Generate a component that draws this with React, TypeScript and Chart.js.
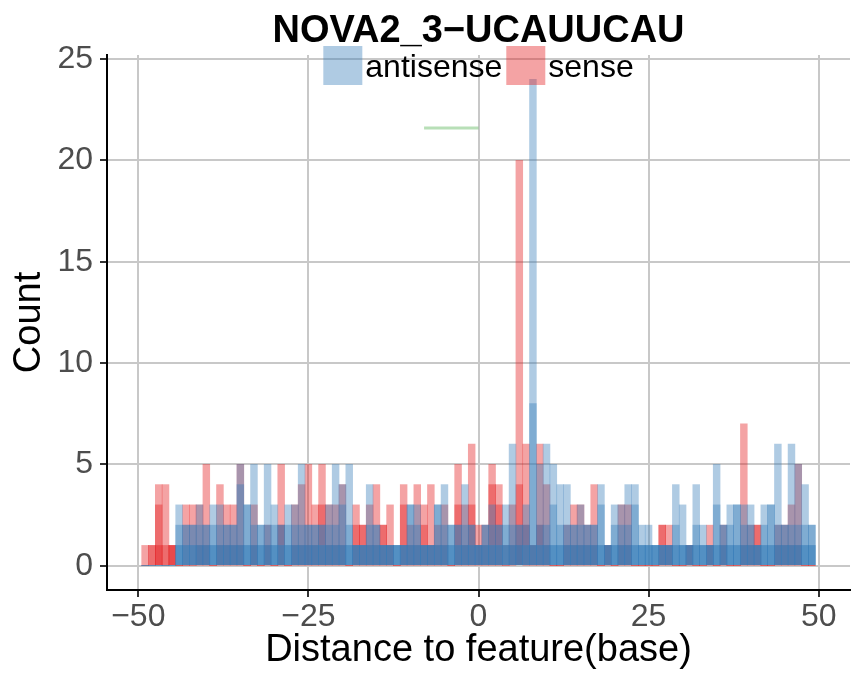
import React, { useEffect, useRef } from "react";
import { Chart, registerables } from "chart.js";

Chart.register(...registerables);

const FONT = '"Liberation Sans", Arial, Helvetica, sans-serif';

const titleText = "NOVA2_3\u2212UCAUUCAU";
const xAxisTitle = "Distance to feature(base)";
const yAxisTitle = "Count";
const legendLabels = ["antisense", "sense"];
const xTickValues = [-50, -25, 0, 25, 50];
const yTickValues = [0, 5, 10, 15, 20, 25];

const positions = [
  -49, -48, -47, -46, -45, -44, -43, -42, -41, -40,
  -39, -38, -37, -36, -35, -34, -33, -32, -31, -30,
  -29, -28, -27, -26, -25, -24, -23, -22, -21, -20,
  -19, -18, -17, -16, -15, -14, -13, -12, -11, -10,
  -9, -8, -7, -6, -5, -4, -3, -2, -1, 0,
  1, 2, 3, 4, 5, 6, 7, 8, 9, 10,
  11, 12, 13, 14, 15, 16, 17, 18, 19, 20,
  21, 22, 23, 24, 25, 26, 27, 28, 29, 30,
  31, 32, 33, 34, 35, 36, 37, 38, 39, 40,
  41, 42, 43, 44, 45, 46, 47, 48, 49,
];

const senseTotal = [
  1, 1, 4, 4, 1, 0, 3, 3, 3, 5,
  0, 4, 3, 3, 5, 0, 3, 0, 2, 0,
  5, 0, 3, 4, 5, 3, 5, 3, 3, 4,
  0, 3, 2, 3, 4, 2, 3, 0, 4, 2,
  4, 3, 4, 2, 3, 0, 5, 3, 6, 2,
  2, 5, 4, 1, 3, 20, 6, 1, 6, 4,
  0, 0, 2, 3, 3, 2, 4, 0, 1, 0,
  3, 3, 0, 0, 0, 0, 2, 2, 0, 0,
  1, 0, 0, 2, 0, 2, 0, 0, 7, 2,
  2, 0, 0, 2, 2, 3, 5, 0, 0,
];

const senseInner = [
  0, 1, 3, 1, 1, 0, 0, 0, 1, 1,
  0, 1, 1, 1, 1, 0, 1, 0, 1, 0,
  2, 0, 1, 1, 1, 1, 3, 1, 1, 1,
  0, 2, 2, 1, 1, 2, 1, 0, 3, 1,
  1, 2, 1, 1, 1, 0, 3, 1, 3, 1,
  1, 4, 3, 0, 1, 4, 2, 1, 2, 1,
  0, 0, 1, 1, 1, 1, 1, 0, 1, 0,
  1, 1, 0, 0, 0, 0, 2, 1, 0, 0,
  1, 0, 0, 1, 0, 1, 0, 0, 1, 1,
  2, 0, 0, 1, 1, 1, 1, 0, 0,
];

const senseBase = [
  0, 0, 1, 0, 1, 0, 0, 0, 0, 0,
  0, 0, 0, 0, 0, 0, 0, 0, 0, 0,
  0, 0, 0, 0, 0, 0, 0, 0, 0, 0,
  0, 0, 0, 0, 0, 0, 0, 0, 0, 0,
  0, 0, 0, 0, 0, 0, 0, 0, 0, 0,
  0, 0, 0, 0, 0, 1, 0, 0, 0, 0,
  0, 0, 0, 0, 0, 0, 0, 0, 0, 0,
  0, 0, 0, 0, 0, 0, 0, 0, 0, 0,
  0, 0, 0, 0, 0, 0, 0, 0, 0, 0,
  0, 0, 0, 0, 0, 0, 0, 0, 0,
];

const antisenseTotal = [
  0, 0, 0, 0, 0, 3, 2, 2, 3, 2,
  3, 3, 2, 2, 5, 3, 5, 2, 5, 3,
  2, 3, 3, 5, 2, 2, 2, 3, 5, 4,
  5, 1, 1, 4, 2, 1, 1, 1, 1, 3,
  3, 1, 1, 3, 4, 2, 2, 4, 2, 1,
  2, 3, 2, 3, 6, 2, 3, 24, 5, 6,
  5, 4, 4, 2, 3, 2, 2, 4, 1, 3,
  3, 4, 4, 2, 2, 1, 1, 1, 4, 3,
  1, 4, 2, 1, 5, 2, 3, 3, 3, 3,
  1, 3, 3, 6, 2, 6, 5, 4, 2,
];

const antisenseInner = [
  0, 0, 0, 0, 0, 2, 2, 2, 2, 2,
  2, 2, 2, 2, 4, 3, 2, 2, 2, 2,
  2, 2, 2, 2, 2, 2, 2, 2, 2, 3,
  2, 1, 1, 2, 2, 1, 1, 1, 1, 3,
  2, 1, 1, 3, 2, 2, 2, 2, 2, 1,
  2, 2, 2, 2, 2, 2, 2, 8, 2, 2,
  3, 2, 2, 2, 2, 2, 2, 3, 1, 2,
  2, 2, 3, 1, 1, 1, 1, 1, 2, 1,
  1, 2, 1, 1, 3, 2, 2, 3, 2, 2,
  1, 2, 3, 2, 2, 2, 2, 2, 2,
];

const antisenseBase = [
  0, 0, 0, 0, 0, 1, 1, 1, 1, 1,
  1, 1, 1, 1, 1, 1, 1, 1, 1, 1,
  1, 1, 1, 1, 1, 1, 1, 1, 1, 1,
  1, 1, 1, 1, 1, 1, 1, 1, 1, 1,
  1, 1, 1, 1, 1, 1, 1, 1, 1, 1,
  1, 1, 1, 1, 1, 1, 1, 1, 1, 1,
  1, 1, 1, 1, 1, 1, 1, 1, 1, 1,
  1, 1, 1, 1, 1, 1, 1, 1, 1, 1,
  1, 1, 1, 1, 1, 1, 1, 1, 1, 1,
  1, 1, 1, 1, 1, 1, 1, 1, 1,
];

const greenX = [-8, 0];
const greenY = [21.6, 21.6];

const BLUE = "rgba(55,126,184,0.4)";
const BLUE_BASE = "rgba(55,126,184,0.6)";
const RED = "rgba(228,26,28,0.4)";
const GREEN = "rgba(77,175,74,0.4)";

const toXY = (vals: number[]) => positions.map((x, i) => ({ x, y: vals[i] }));
const fmt = (v: number | string) => {
  const n = Number(v);
  return n < 0 ? "\u2212" + Math.abs(n) : String(n);
};

const barStyle = (color: string) => ({
  backgroundColor: color,
  borderWidth: 0,
  grouped: false,
  barPercentage: 1,
  categoryPercentage: 1,
});

const overlayPlugin = {
  id: "overlay",
  afterDraw(chart: any) {
    const { ctx, chartArea } = chart;
    const cx = (chartArea.left + chartArea.right) / 2;
    ctx.save();
    ctx.fillStyle = "#000";
    ctx.font = `bold 38px ${FONT}`;
    ctx.textAlign = "center";
    ctx.textBaseline = "alphabetic";
    ctx.fillText(titleText, cx, 34);

    ctx.font = `32px ${FONT}`;
    const box = 39;
    const gapText = 3;
    const gapItem = 4;
    const widths = legendLabels.map((t) => ctx.measureText(t).width);
    const total = widths.reduce((a, w) => a + box + gapText + w, 0) + gapItem * (legendLabels.length - 1);
    let x = cx - total / 2;
    const top = 38;
    const colors = [BLUE, RED];
    ctx.textAlign = "left";
    legendLabels.forEach((t, i) => {
      ctx.fillStyle = colors[i];
      ctx.fillRect(x, top, box, box);
      x += box + gapText;
      ctx.fillStyle = "#000";
      ctx.fillText(t, x, top + 31);
      x += widths[i] + gapItem;
    });
    ctx.restore();
  },
};

export default function App() {
  const ref = useRef<HTMLCanvasElement | null>(null);

  useEffect(() => {
    if (!ref.current) return;
    const chart = new Chart(ref.current, {
      type: "bar",
      data: {
        datasets: [
          {
            type: "line",
            label: "segment",
            data: greenX.map((x, i) => ({ x, y: greenY[i] })),
            borderColor: GREEN,
            borderWidth: 3,
            pointRadius: 0,
            fill: false,
          } as any,
          { label: "antisense", data: toXY(antisenseTotal), ...barStyle(BLUE) },
          { label: "antisense inner", data: toXY(antisenseInner), ...barStyle(BLUE) },
          { label: "antisense base", data: toXY(antisenseBase), ...barStyle(BLUE_BASE) },
          { label: "sense", data: toXY(senseTotal), ...barStyle(RED) },
          { label: "sense inner", data: toXY(senseInner), ...barStyle(RED) },
          { label: "sense base", data: toXY(senseBase), ...barStyle(RED) },
        ],
      },
      options: {
        animation: false,
        responsive: false,
        devicePixelRatio: 1,
        layout: { padding: { top: 47, right: 8, left: 0, bottom: 0 } },
        plugins: {
          legend: { display: false },
          title: { display: false },
          tooltip: { enabled: false },
        },
        scales: {
          x: {
            type: "linear",
            min: -54.6,
            max: 54.6,
            offset: false,
            afterBuildTicks: (s: any) => {
              s.ticks = xTickValues.map((v) => ({ value: v }));
            },
            afterFit: (s: any) => {
              s.height = 80;
            },
            grid: {
              color: "#c8c8c8",
              lineWidth: 2,
              offset: false,
              tickColor: "#333333",
              tickLength: 7,
              tickWidth: 2,
            },
            border: { display: true, color: "#000", width: 2 },
            ticks: {
              color: "#4d4d4d",
              font: { size: 32, family: FONT },
              padding: 1,
              maxRotation: 0,
              autoSkip: false,
              callback: (v: any) => fmt(v),
            },
            title: {
              display: true,
              text: xAxisTitle,
              color: "#000",
              font: { size: 38, family: FONT, lineHeight: 1 },
              padding: { top: -3, bottom: 0 },
            },
          },
          y: {
            type: "linear",
            min: -1.2,
            max: 25.2,
            afterBuildTicks: (s: any) => {
              s.ticks = yTickValues.map((v) => ({ value: v }));
            },
            afterFit: (s: any) => {
              s.width = 99;
            },
            grid: {
              color: "#c8c8c8",
              lineWidth: 2,
              tickColor: "#333333",
              tickLength: 7,
              tickWidth: 2,
            },
            border: { display: true, color: "#000", width: 2 },
            ticks: {
              color: "#4d4d4d",
              font: { size: 32, family: FONT },
              padding: 7,
              autoSkip: false,
              callback: (v: any) => fmt(v),
            },
            title: {
              display: true,
              text: yAxisTitle,
              color: "#000",
              font: { size: 38, family: FONT, lineHeight: 1 },
              padding: { top: 3, bottom: 0 },
            },
          },
        },
      } as any,
      plugins: [overlayPlugin],
    });
    return () => chart.destroy();
  }, []);

  return (
    <canvas
      ref={ref}
      width={850}
      height={662}
      style={{ display: "block", width: 850, height: 662 }}
    />
  );
}
